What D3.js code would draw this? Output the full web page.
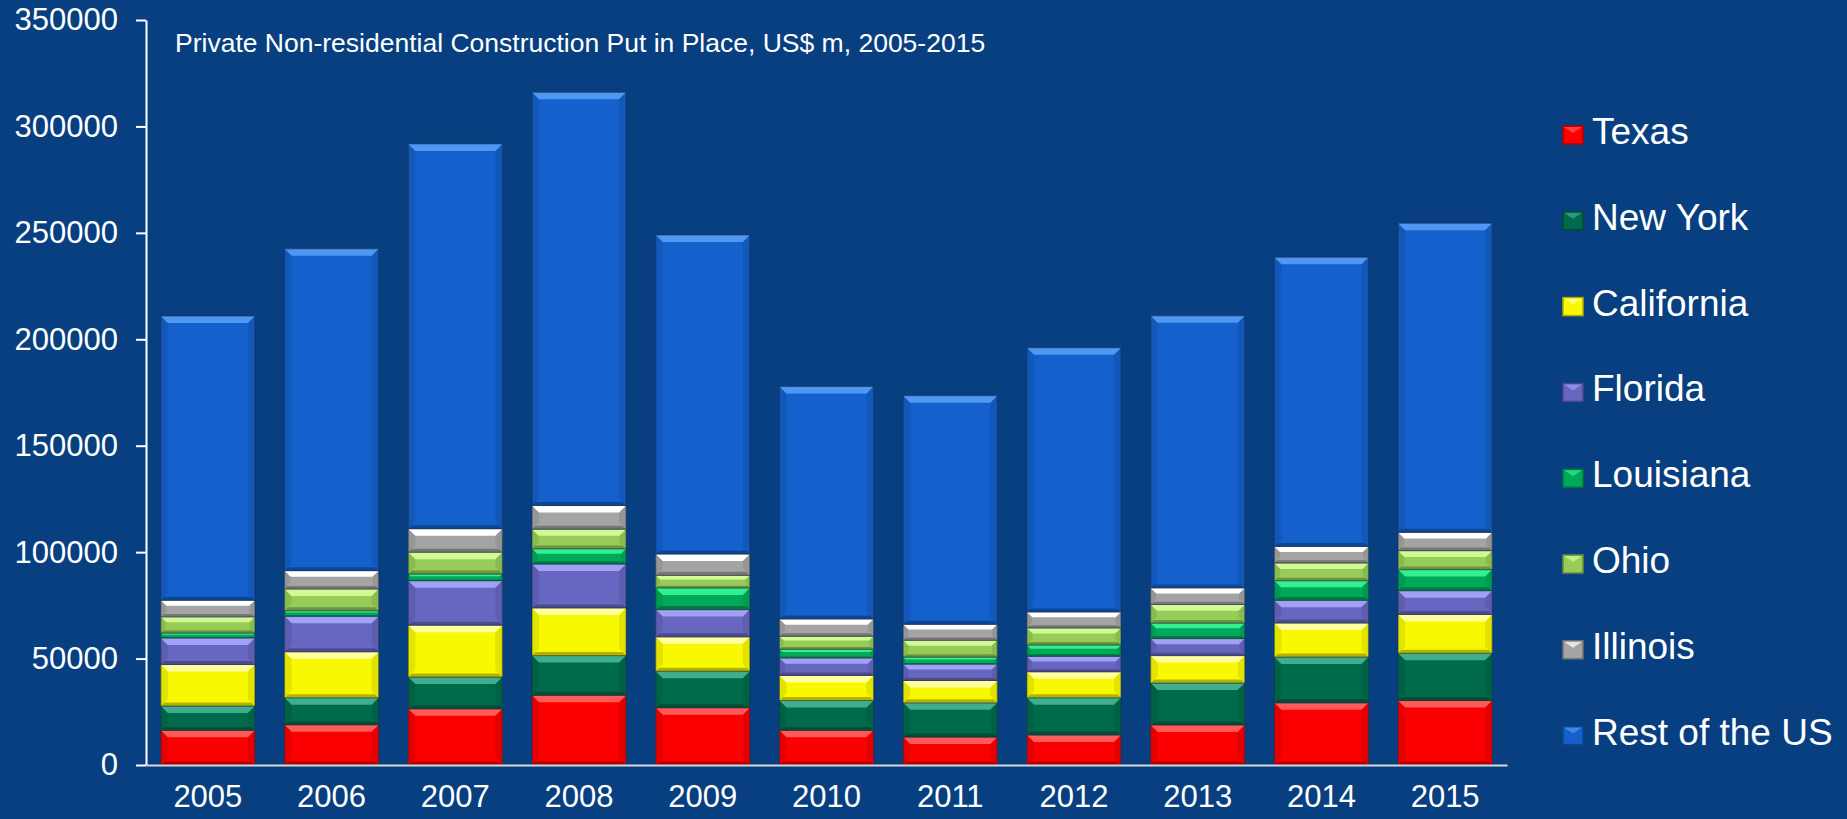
<!DOCTYPE html>
<html>
<head>
<meta charset="utf-8">
<script src="https://cdn.jsdelivr.net/npm/d3@7"></script>
<style>
    body { margin: 0; background: #083f80; }
    svg { display: block; font-family: Arial, "Liberation Sans", sans-serif; }
</style>
</head>
<body>
<svg id="svg1"></svg>
<script>
// data (US$ m)
const years = ["2005", "2006", "2007", "2008", "2009", "2010", "2011", "2012", "2013", "2014", "2015"];
const seriesNames = ["Texas", "New York", "California", "Florida", "Louisiana", "Ohio", "Illinois", "Rest of the US"];
const texas      = [16300, 18900, 26400, 32800, 26900, 16300, 13100, 14100, 18800, 29200, 30300];
const newYork    = [11400, 12700, 14900, 18600, 17200, 14000, 16100, 17500, 19700, 21500, 22200];
const california = [19500, 21600, 24400, 22400, 16100, 11800, 10500, 12200, 12900, 16000, 18200];
const florida    = [12500, 16700, 20900, 20600, 12800, 8200, 7700, 7300, 8000, 10700, 11200];
const louisiana  = [2300, 2600, 3100, 7200, 10200, 4100, 3300, 5300, 7300, 9200, 9900];
const ohio       = [7600, 10200, 10300, 9200, 5900, 6100, 7900, 8000, 8700, 8300, 8900];
const illinois   = [7800, 8600, 11000, 11100, 10000, 8100, 7500, 7500, 7800, 7800, 8600];
const restOfUS   = [133500, 151200, 180800, 194100, 149900, 109200, 107400, 124100, 127800, 135800, 145200];
const yTicks = [0, 50000, 100000, 150000, 200000, 250000, 300000, 350000];
const titleText = "Private Non-residential Construction Put in Place, US$ m, 2005-2015";

const seriesValues = [texas, newYork, california, florida, louisiana, ohio, illinois, restOfUS];
const seriesColors = ["#fa0000", "#006b4b", "#f8f800", "#6767c2", "#00a85a", "#96cc57", "#a4a4a4", "#1460cc"];
const seriesLights = ["#ff5a5a", "#3fae8e", "#ffffa0", "#a0a0f4", "#30f090", "#d2fa94", "#ffffff", "#4f97f2"];

// layout
const width = 1847;
const height = 819;
const margin = {top: 20, right: 340, bottom: 54, left: 146};

const svg = d3.select('#svg1')
    .attr('width', width)
    .attr('height', height);

svg.append('rect')
    .attr('width', width)
    .attr('height', height)
    .attr('fill', '#083f80');

// build table
const table = years.map(function(yr, i) {
    const row = {year: yr};
    seriesNames.forEach(function(s, j) { row[s] = seriesValues[j][i]; });
    return row;
});
const stacked = d3.stack().keys(seriesNames)(table);

const x = d3.scaleBand()
    .domain(years)
    .range([margin.left, width - margin.right])
    .paddingInner(0.24)
    .paddingOuter(0.12);

const y = d3.scaleLinear()
    .domain([0, 350000])
    .range([height - margin.bottom, margin.top]);

// bars
stacked.forEach(function(layer, j) {
    const g = svg.append('g');
    const base = seriesColors[j];
    const light = seriesLights[j];
    const dark = d3.color(base).darker(0.9).formatHex();
    const side = d3.color(base).darker(0.25).formatHex();
    layer.forEach(function(d, i) {
        const x0 = x(years[i]);
        const w = x.bandwidth();
        const y0 = y(d[1]);
        const h = y(d[0]) - y(d[1]);
        const b = Math.min(7, h / 3);
        g.append('rect')
            .attr('x', x0).attr('y', y0)
            .attr('width', w).attr('height', h)
            .attr('fill', base);
        // left and right bevel
        g.append('polygon')
            .attr('points', [[x0, y0], [x0 + b, y0 + b], [x0 + b, y0 + h - b], [x0, y0 + h]].join(' '))
            .attr('fill', side);
        g.append('polygon')
            .attr('points', [[x0 + w, y0], [x0 + w - b, y0 + b], [x0 + w - b, y0 + h - b], [x0 + w, y0 + h]].join(' '))
            .attr('fill', side);
        // top highlight
        g.append('polygon')
            .attr('points', [[x0, y0], [x0 + w, y0], [x0 + w - b, y0 + b], [x0 + b, y0 + b]].join(' '))
            .attr('fill', light);
        // bottom shade
        g.append('polygon')
            .attr('points', [[x0, y0 + h], [x0 + w, y0 + h], [x0 + w - b / 2, y0 + h - b / 2], [x0 + b / 2, y0 + h - b / 2]].join(' '))
            .attr('fill', dark);
        g.append('rect')
            .attr('x', x0).attr('y', y0)
            .attr('width', w).attr('height', h)
            .attr('fill', 'none')
            .attr('stroke', '#1b2a40')
            .attr('stroke-opacity', 0.55)
            .attr('stroke-width', 1);
    });
});

// Y axis
const yAxis = svg.append('g')
    .attr('transform', 'translate(' + margin.left + ',0)')
    .call(d3.axisLeft(y).tickValues(yTicks).tickFormat(d3.format('d')).tickSize(10).tickSizeOuter(0).tickPadding(18));
yAxis.select('.domain').attr('stroke', '#ffffff').attr('stroke-width', 2);
yAxis.selectAll('.tick line').attr('stroke', '#ffffff').attr('stroke-width', 2);
yAxis.selectAll('text')
    .attr('fill', '#ffffff')
    .style('font-size', '31px')
    .style('font-family', 'Arial, "Liberation Sans", sans-serif');

// X axis
const xAxis = svg.append('g')
    .attr('transform', 'translate(0,' + (height - margin.bottom) + ')')
    .call(d3.axisBottom(x).tickSize(0).tickSizeOuter(0).tickPadding(20));
xAxis.select('.domain').attr('stroke', '#d8d8d8').attr('stroke-width', 2);
xAxis.selectAll('text')
    .attr('fill', '#ffffff')
    .style('font-size', '31px')
    .style('font-family', 'Arial, "Liberation Sans", sans-serif');

// title
svg.append('text')
    .attr('x', 175)
    .attr('y', 52)
    .attr('fill', '#ffffff')
    .style('font-size', '26.5px')
    .text(titleText);

// legend
const legend = svg.append('g')
    .attr('transform', 'translate(1563,144)');
seriesNames.forEach(function(s, j) {
    const row = legend.append('g')
        .attr('transform', 'translate(0,' + (j * 85.8) + ')');
    row.append('rect')
        .attr('x', 0).attr('y', -18)
        .attr('width', 20).attr('height', 18)
        .attr('fill', seriesColors[j])
        .attr('stroke', d3.color(seriesColors[j]).darker(1).formatHex())
        .attr('stroke-width', 1.5);
    row.append('polygon')
        .attr('points', [[1, -17], [19, -17], [10, -11]].join(' '))
        .attr('fill', seriesLights[j])
        .attr('opacity', 0.7);
    row.append('text')
        .attr('x', 29)
        .attr('y', 0)
        .attr('fill', '#ffffff')
        .style('font-size', '37px')
        .text(s);
});
</script>
</body>
</html>
